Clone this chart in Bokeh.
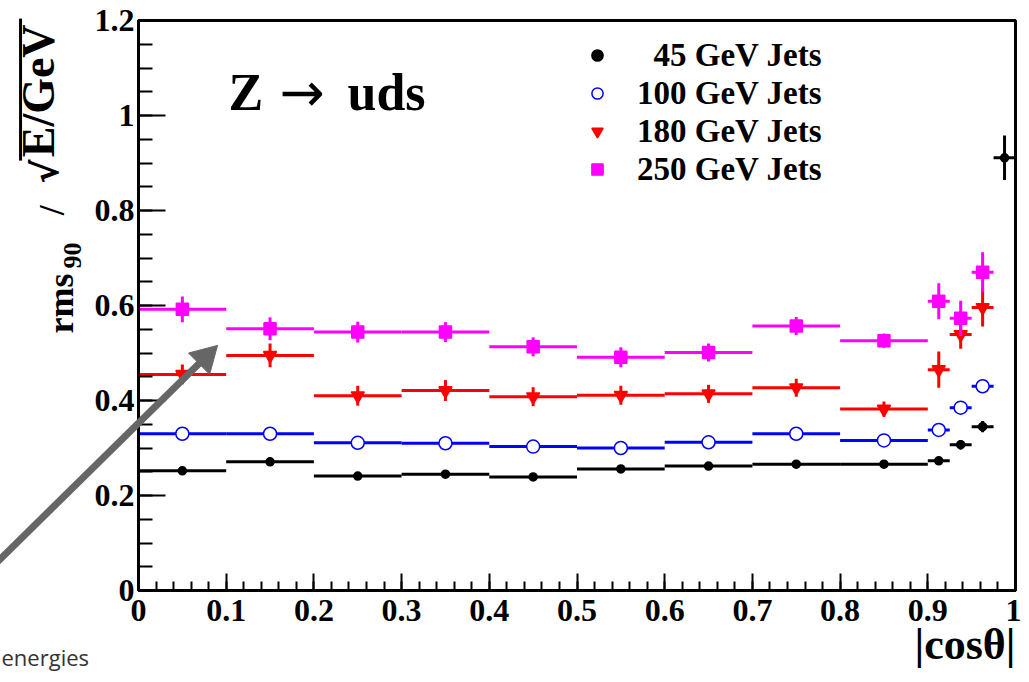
import math
from bokeh.plotting import figure
from bokeh.models import (Range1d, FixedTicker, CustomJSTickFormatter, Legend,
                          LegendItem, Label)
from bokeh.core.properties import value
from bokeh.embed import file_html
from bokeh.resources import INLINE

# ---------------- data ----------------
bin_centers = [0.05, 0.15, 0.25, 0.35, 0.45, 0.55, 0.65, 0.75, 0.85,
               0.9125, 0.9375, 0.9625, 0.9875]
bin_halfwidths = [0.05] * 9 + [0.0125] * 4

jets45 = [0.252, 0.271, 0.241, 0.245, 0.239, 0.256, 0.262, 0.266, 0.266,
          0.273, 0.307, 0.345, 0.911]
jets45_err = [0.005] * 9 + [0.008, 0.010, 0.012, 0.047]

jets100 = [0.330, 0.330, 0.311, 0.310, 0.303, 0.300, 0.312, 0.330, 0.316,
           0.338, 0.385, 0.430]
jets100_err = [0.006] * 9 + [0.012, 0.012, 0.012]

jets180 = [0.455, 0.495, 0.410, 0.421, 0.408, 0.411, 0.414, 0.427, 0.382,
           0.465, 0.539, 0.596]
jets180_err = [0.021, 0.025, 0.021, 0.022, 0.020, 0.020, 0.019, 0.019, 0.016,
               0.038, 0.030, 0.040]

jets250 = [0.592, 0.551, 0.544, 0.544, 0.513, 0.491, 0.501, 0.557, 0.526,
           0.609, 0.573, 0.670]
jets250_err = [0.027, 0.024, 0.022, 0.021, 0.020, 0.021, 0.019, 0.019, 0.015,
               0.038, 0.037, 0.042]

series_labels = ["\u200745 GeV Jets", "100 GeV Jets", "180 GeV Jets", "250 GeV Jets"]
x_ticks = [0, 0.1, 0.2, 0.3, 0.4, 0.5, 0.6, 0.7, 0.8, 0.9, 1]
x_minor_ticks = [round(i * 0.02, 4) for i in range(51)]
y_ticks = [0, 0.2, 0.4, 0.6, 0.8, 1, 1.2]
y_minor_ticks = [round(i * 0.05, 4) for i in range(25)]

SERIF = "Liberation Serif"

# ---------------- figure ----------------
p = figure(width=1021, height=674, output_backend="svg", toolbar_location=None,
           x_range=Range1d(0, 1), y_range=Range1d(0, 1.2),
           min_border_left=138, min_border_right=6, min_border_top=20,
           min_border_bottom=84)
p.background_fill_color = "white"
p.border_fill_color = "white"
p.grid.visible = False
p.outline_line_color = "black"
p.outline_line_width = 3

fmt = CustomJSTickFormatter(code="return String(Math.round(tick*1000)/1000);")

p.xaxis.ticker = FixedTicker(ticks=x_ticks, minor_ticks=x_minor_ticks)
p.yaxis.ticker = FixedTicker(ticks=y_ticks, minor_ticks=y_minor_ticks)
for ax in (p.xaxis[0], p.yaxis[0]):
    ax.formatter = fmt
    ax.axis_line_width = 3
    ax.axis_line_color = "black"
    ax.major_tick_out = 0
    ax.minor_tick_out = 0
    ax.major_tick_line_width = 2
    ax.minor_tick_line_width = 2
    ax.major_label_text_font = SERIF
    ax.major_label_text_font_style = "bold"
    ax.major_label_text_font_size = "32px"
    ax.major_label_text_color = "black"
p.xaxis.major_tick_in = 17
p.xaxis.minor_tick_in = 9
p.yaxis.major_tick_in = 27
p.yaxis.minor_tick_in = 14
p.xaxis.major_label_standoff = 9
p.yaxis.major_label_standoff = 4

# ---------------- series ----------------
series = [
    (jets45, jets45_err, "#000000", "circle", 8, "#000000"),
    (jets100, jets100_err, "#0000ff", "circle", 13, "white"),
    (jets180, jets180_err, "#ff0000", "inverted_triangle", 13, "#ff0000"),
    (jets250, jets250_err, "#ff00ff", "square", 12, "#ff00ff"),
]

items = []
for (vals, errs, col, marker, size, fill), lab in zip(series, series_labels):
    n = len(vals)
    xs = bin_centers[:n]
    hw = bin_halfwidths[:n]
    p.segment(x0=[x - h for x, h in zip(xs, hw)], y0=vals,
              x1=[x + h for x, h in zip(xs, hw)], y1=vals,
              line_color=col, line_width=3)
    p.segment(x0=xs, y0=[v - e for v, e in zip(vals, errs)],
              x1=xs, y1=[v + e for v, e in zip(vals, errs)],
              line_color=col, line_width=3)
    r = p.scatter(xs, vals, marker=marker, size=size, line_color=col,
                  fill_color=fill, line_width=1.5)
    items.append(LegendItem(label=lab, renderers=[r]))

legend = Legend(items=items, location=(445, 402), padding=0, margin=0, spacing=0,
                glyph_width=28, glyph_height=38, label_height=38,
                label_standoff=26, background_fill_alpha=0,
                border_line_color=None,
                label_text_font=SERIF, label_text_font_style="bold",
                label_text_font_size="33px", label_text_color="black")
p.add_layout(legend, "center")

# ---------------- in-frame title ----------------
def lab(text, x, y, size, font=SERIF, style="bold"):
    p.add_layout(Label(text=text, x=x, y=y, x_units="screen", y_units="screen",
                       text_align="left", text_baseline="alphabetic",
                       text_font=font, text_font_style=style,
                       text_font_size=size, text_color="black"))

lab("Z", 90, 498, "52px")
lab("\u2192", 141, 498, "54px", font="DejaVu Sans", style="normal")
lab("uds", 209, 498, "52px")

# ---------------- texts outside the frame (overlay-level glyphs) ----------------
def otext(text, x, y, size, angle=0.0, align="left", font=SERIF, style="bold",
          color="black"):
    p.text(x=[x], y=[y], text=[text], angle=angle, text_align=align,
           text_baseline="alphabetic", text_font=value(font),
           text_font_style=style, text_font_size=value(size),
           text_color=color, level="overlay")

up = math.pi / 2
# y-axis title: rms_90 / sqrt(E/GeV)
otext("rms", -0.0889, 0.541, "36px", angle=up)
otext("90", -0.0753, 0.678, "26px", angle=up)
otext("/", -0.0981, 0.790, "36px", angle=up)
otext("\u221a", -0.1060, 0.857, "36px", angle=up, font="DejaVu Sans")
otext("E/GeV", -0.1144, 0.912, "46px", angle=up)
p.segment(x0=[-0.1345], y0=[0.905], x1=[-0.1345], y1=[1.204],
          line_color="black", line_width=3, level="overlay")

# x-axis title
otext("|cos\u03b8|", 1.0, -0.1137, "44px", align="right")

# pointer arrow (decoration) and cut-off caption
p.segment(x0=[-0.1802], y0=[0.0253], x1=[0.0761], y1=[0.4903],
          line_color="#666666", line_width=7, level="overlay")
p.scatter(x=[0.0761], y=[0.4903], marker="triangle", size=30, angle=-0.79,
          fill_color="#666666", line_color="#666666", level="overlay")
otext("energies", -0.1562, -0.141, "22px", font="Open Sans", style="normal",
      color="#333333")

open("out.html", "w").write(file_html(p, INLINE))
